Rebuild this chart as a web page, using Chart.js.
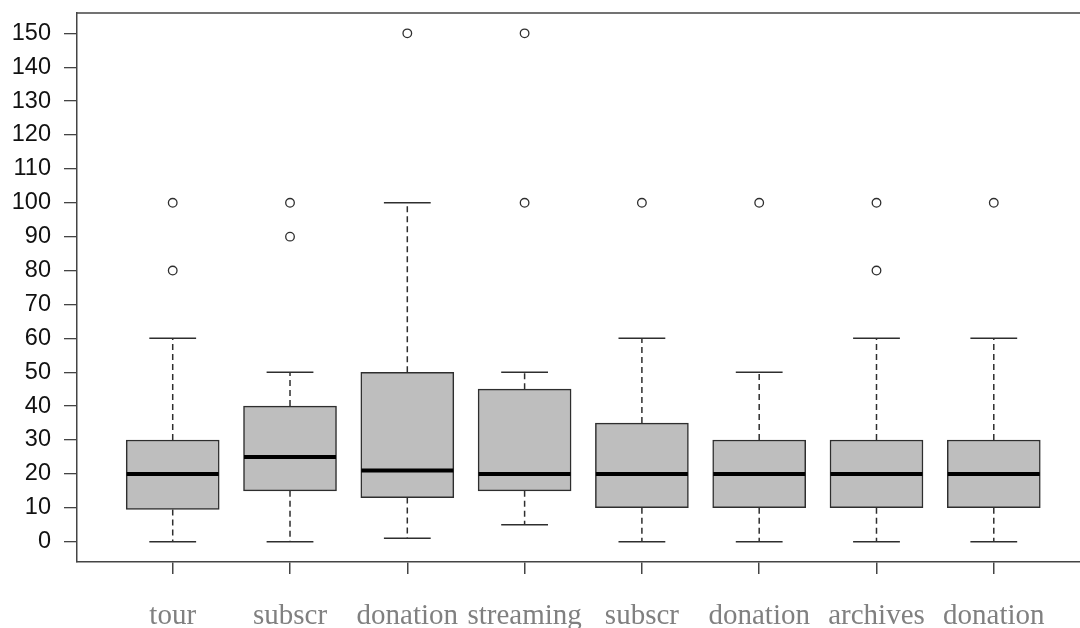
<!DOCTYPE html>
<html>
<head>
<meta charset="utf-8">
<script src="https://cdn.jsdelivr.net/npm/chart.js@4/dist/chart.umd.min.js"></script>
<style>
  html, body { margin: 0; padding: 0; background: #fff; }
  canvas { display: block; }
</style>
</head>
<body>
<canvas id="boxChart" width="1080" height="628"></canvas>
<script>
// Box plot values
var categories = ['tour', 'subscr', 'donation', 'streaming', 'subscr', 'donation', 'archives', 'donation'];
var whiskerLow = [0, 0, 1, 5, 0, 0, 0, 0];
var q1 = [9.5, 15, 13, 15, 10, 10, 10, 10];
var median = [20, 25, 21, 20, 20, 20, 20, 20];
var q3 = [30, 40, 50, 45, 35, 30, 30, 30];
var whiskerHigh = [60, 50, 100, 50, 60, 50, 60, 60];
var outliers = [[100, 80], [100, 90], [150], [150, 100], [100], [100], [100, 80], [100]];

var LINE = '#2e2e2e';

// Build datasets from the arrays above
var boxData = [], medData = [], capData = [], whiskerData = [], outlierData = [];
categories.forEach(function (c, i) {
	var x = i + 1;
	boxData.push({ x: x, y: [q1[i], q3[i]] });
	medData.push({ x: x, y: median[i] });
	capData.push({ x: x, y: whiskerLow[i] });
	capData.push({ x: x, y: whiskerHigh[i] });
	// upper whisker, gap, lower whisker, gap
	whiskerData.push({ x: x, y: q3[i] }, { x: x, y: whiskerHigh[i] }, { x: x, y: null });
	whiskerData.push({ x: x, y: q1[i] }, { x: x, y: whiskerLow[i] }, { x: x, y: null });
	outliers[i].forEach(function (v) {
		outlierData.push({ x: x, y: v });
	});
});

// Top edge of the plot frame
var frameTop = {
	id: 'frameTop',
	afterDraw: function (chart) {
		var ctx = chart.ctx, a = chart.chartArea;
		ctx.save();
		ctx.strokeStyle = '#444';
		ctx.lineWidth = 1.5;
		ctx.beginPath();
		ctx.moveTo(a.left, a.top);
		ctx.lineTo(a.right, a.top);
		ctx.stroke();
		ctx.restore();
	}
};

// keep the plot box where the reference has it
function noEdgePadding(scale) {
	scale.paddingTop = 0;
	scale.paddingBottom = 0;
	scale.paddingLeft = 0;
	scale.paddingRight = 0;
}

new Chart(document.getElementById('boxChart'), {
	type: 'bar',
	data: {
		datasets: [
			{
				type: 'line',
				data: outlierData,
				showLine: false,
				pointStyle: 'circle',
				pointRadius: 4.3,
				pointBorderWidth: 1.3,
				pointBorderColor: LINE,
				pointBackgroundColor: 'rgba(0,0,0,0)',
				order: 0
			},
			{
				type: 'line',
				data: medData,
				showLine: false,
				pointStyle: 'line',
				pointRadius: 46,
				pointBorderWidth: 4,
				pointBorderColor: '#000',
				order: 1
			},
			{
				type: 'bar',
				data: boxData,
				backgroundColor: '#bebebe',
				borderColor: LINE,
				borderWidth: 1.5,
				borderSkipped: false,
				barThickness: 93,
				order: 2
			},
			{
				type: 'line',
				data: capData,
				showLine: false,
				pointStyle: 'line',
				pointRadius: 23.4,
				pointBorderWidth: 1.5,
				pointBorderColor: LINE,
				order: 3
			},
			{
				type: 'line',
				data: whiskerData,
				spanGaps: false,
				borderColor: LINE,
				borderWidth: 1.5,
				borderDash: [6, 4],
				pointRadius: 0,
				order: 4
			}
		]
	},
	options: {
		responsive: false,
		devicePixelRatio: 1,
		animation: false,
		layout: { autoPadding: false, padding: { top: 13, right: 0, left: 0, bottom: 0 } },
		plugins: {
			legend: { display: false },
			tooltip: { enabled: false }
		},
		scales: {
			x: {
				type: 'linear',
				min: 0.184,
				max: 8.735,
				offset: false,
				afterBuildTicks: function (scale) {
					scale.ticks = categories.map(function (c, i) { return { value: i + 1 }; });
				},
				afterFit: function (scale) {
					scale.height = 66;
					noEdgePadding(scale);
				},
				grid: {
					offset: false,
					drawOnChartArea: false,
					drawTicks: true,
					tickLength: 12,
					color: '#444',
					lineWidth: 1.5
				},
				border: { display: true, color: '#444', width: 1.5 },
				ticks: {
					autoSkip: false,
					maxRotation: 0,
					padding: 25,
					color: '#808080',
					font: { family: '"Liberation Serif", "Times New Roman", serif', size: 29 },
					callback: function (v) { return categories[v - 1]; }
				}
			},
			y: {
				min: -6,
				max: 156,
				afterBuildTicks: function (scale) {
					scale.ticks = scale.ticks.filter(function (t) {
						return t.value >= 0 && t.value <= 150 && t.value % 5 === 0;
					});
				},
				afterFit: function (scale) {
					scale.width = 77;
					noEdgePadding(scale);
				},
				grid: {
					drawOnChartArea: false,
					drawTicks: true,
					tickLength: 13,
					color: '#444',
					lineWidth: 1.3
				},
				border: { display: true, color: '#444', width: 1.5 },
				ticks: {
					stepSize: 5,
					padding: 13,
					color: '#111',
					font: { family: '"Liberation Sans", Arial, sans-serif', size: 23.5 },
					callback: function (v) { return v % 10 === 0 ? String(v) : ''; }
				}
			}
		}
	},
	plugins: [frameTop]
});
</script>
</body>
</html>
